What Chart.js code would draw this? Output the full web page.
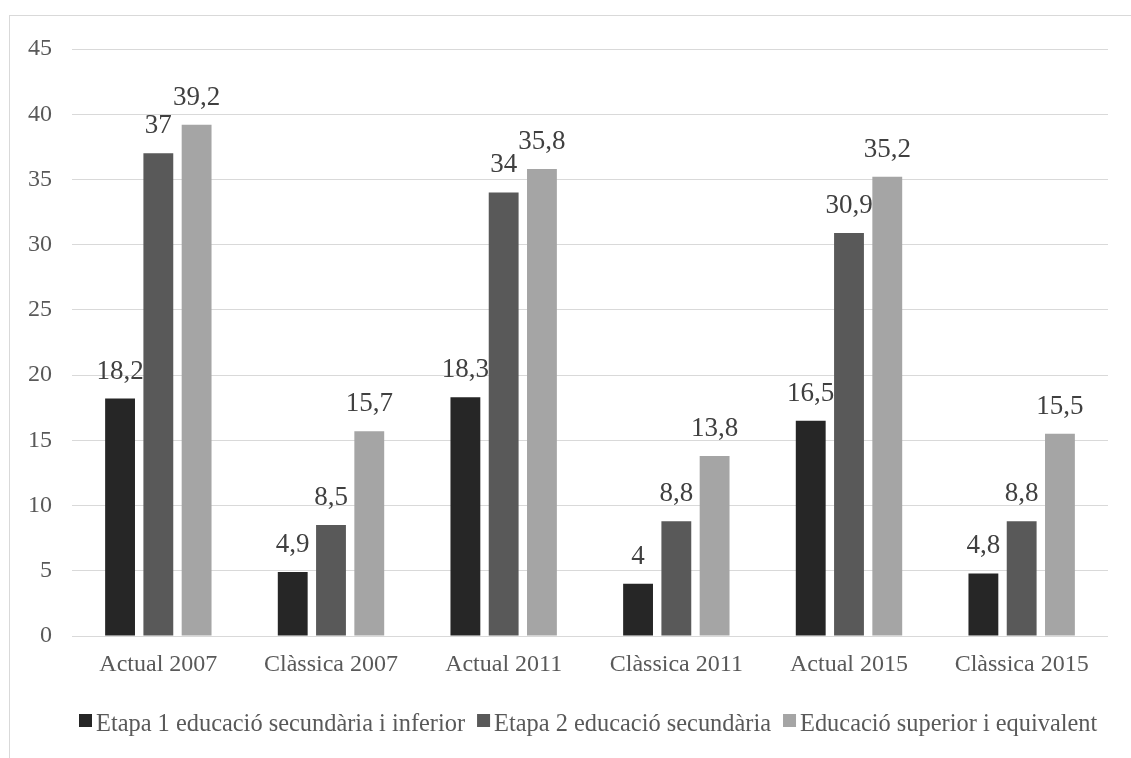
<!DOCTYPE html>
<html>
<head>
<meta charset="utf-8">
<script src="https://cdn.jsdelivr.net/npm/chart.js@4.4.1/dist/chart.umd.min.js"></script>
<style>
  html, body { margin: 0; padding: 0; background: #ffffff; }
  canvas { display: block; }
</style>
</head>
<body>
<canvas id="c" width="1131" height="758"></canvas>
<script>
// Categories and series values
const categories = ['Actual 2007', 'Clàssica 2007', 'Actual 2011', 'Clàssica 2011', 'Actual 2015', 'Clàssica 2015'];
const seriesNames = ['Etapa 1 educació secundària i inferior', 'Etapa 2 educació secundària', 'Educació superior i equivalent'];
const etapa1 = [18.2, 4.9, 18.3, 4, 16.5, 4.8];
const etapa2 = [37, 8.5, 34, 8.8, 30.9, 8.8];
const superior = [39.2, 15.7, 35.8, 13.8, 35.2, 15.5];
const yTicks = [0, 5, 10, 15, 20, 25, 30, 35, 40, 45];

const FONT = "'Liberation Serif', 'Times New Roman', serif";

// Outer frame of the chart
const framePlugin = {
  id: 'frame',
  beforeDraw(chart) {
    const ctx = chart.ctx;
    ctx.save();
    ctx.fillStyle = '#ffffff';
    ctx.fillRect(0, 0, chart.width, chart.height);
    ctx.strokeStyle = '#d9d9d9';
    ctx.lineWidth = 1;
    ctx.strokeRect(9.5, 15.5, chart.width + 20, chart.height + 20);
    ctx.restore();
  }
};

// Value labels above each bar, decimal comma
const valueLabels = {
  id: 'valueLabels',
  afterDatasetsDraw(chart) {
    const ctx = chart.ctx;
    ctx.save();
    ctx.font = '27px ' + FONT;
    ctx.fillStyle = '#404040';
    ctx.textAlign = 'center';
    ctx.textBaseline = 'alphabetic';
    chart.data.datasets.forEach((ds, i) => {
      chart.getDatasetMeta(i).data.forEach((bar, j) => {
        const txt = String(ds.data[j]).replace('.', ',');
        ctx.fillText(txt, bar.x, bar.y - 20);
      });
    });
    ctx.restore();
  }
};

// Compact legend row under the axis: square swatch followed closely by the series name
const compactLegend = {
  id: 'compactLegend',
  afterDraw(chart) {
    const ctx = chart.ctx;
    const box = 13, gapText = 4, gapItem = 12;
    ctx.save();
    ctx.font = '24.4px ' + FONT;
    ctx.textBaseline = 'alphabetic';
    ctx.textAlign = 'left';
    const items = chart.data.datasets.map(ds => ({
      text: ds.label, color: ds.backgroundColor, w: ctx.measureText(ds.label).width
    }));
    const total = items.reduce((s, it) => s + box + gapText + it.w, 0) + gapItem * (items.length - 1);
    const centre = (chart.chartArea.left + chart.chartArea.right) / 2 - 2;
    let x = Math.round(centre - total / 2);
    const baseline = 730.5;
    items.forEach(it => {
      ctx.fillStyle = it.color;
      ctx.fillRect(x, baseline - 16.5, box, box);
      x += box + gapText;
      ctx.fillStyle = '#595959';
      ctx.fillText(it.text, x, baseline);
      x += it.w + gapItem;
    });
    ctx.restore();
  }
};

new Chart(document.getElementById('c'), {
  type: 'bar',
  data: {
    labels: categories,
    datasets: [
      { label: seriesNames[0], data: etapa1, backgroundColor: '#262626' },
      { label: seriesNames[1], data: etapa2, backgroundColor: '#595959' },
      { label: seriesNames[2], data: superior, backgroundColor: '#a5a5a5' }
    ]
  },
  options: {
    responsive: false,
    animation: false,
    devicePixelRatio: 1,
    layout: { padding: { left: 0, right: 23, top: 49, bottom: 56 } },
    datasets: { bar: { categoryPercentage: 0.665, barPercentage: 0.78 } },
    scales: {
      x: {
        grid: { display: false, drawTicks: false },
        border: { display: false },
        ticks: { color: '#595959', font: { family: FONT, size: 24 }, padding: 14, maxRotation: 0 },
        afterFit(s) { s.height = 66; }
      },
      y: {
        min: 0,
        max: 45,
        grid: { color: '#d9d9d9', lineWidth: 1, drawTicks: false },
        border: { display: false },
        ticks: {
          stepSize: 5,
          color: '#595959',
          font: { family: FONT, size: 24 },
          padding: 20,
          callback: v => (yTicks.includes(v) ? String(v) : '')
        },
        afterFit(s) { s.width = 72; }
      }
    },
    plugins: {
      legend: { display: false },
      tooltip: { enabled: false }
    }
  },
  plugins: [framePlugin, valueLabels, compactLegend]
});
</script>
</body>
</html>
